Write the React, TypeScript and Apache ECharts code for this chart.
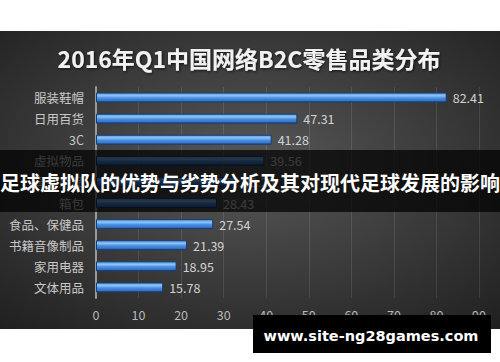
import React, { useEffect, useRef } from "react";
import * as echarts from "echarts";

const categories = [
  "服装鞋帽",
  "日用百货",
  "3C",
  "虚拟物品",
  "母婴用品",
  "箱包",
  "食品、保健品",
  "书籍音像制品",
  "家用电器",
  "文体用品",
];
const values = [82.41, 47.31, 41.28, 39.56, 33.2, 28.43, 27.54, 21.39, 18.95, 15.78];
const xTicks = [0, 10, 20, 30, 40, 50, 60, 70, 80, 90];
const titleText = "2016年Q1中国网络B2C零售品类分布";
const bannerText = "足球虚拟队的优势与劣势分析及其对现代足球发展的影响";
const watermarkText = "www.site-ng28games.com";

export default function App() {
  const ref = useRef<HTMLDivElement>(null);
  useEffect(() => {
    document.body.style.margin = "0";
    const chart = echarts.init(ref.current!, null, { renderer: "svg" });
    const cjk = "'Noto Sans CJK SC', 'Noto Sans', sans-serif";
    chart.setOption({
      animation: false,
      backgroundColor: "#ffffff",
      grid: { left: 96, right: 21, top: 87, bottom: 64 },
      xAxis: {
        type: "value",
        min: xTicks[0],
        max: xTicks[xTicks.length - 1],
        interval: 10,
        axisLine: { show: false },
        axisTick: { show: false },
        splitLine: { show: true, lineStyle: { color: "rgba(255,255,255,0.1)", width: 1 } },
        axisLabel: { color: "#b8b8b8", fontSize: 12.5, fontFamily: cjk, margin: 10 },
      },
      yAxis: {
        type: "category",
        data: categories,
        inverse: true,
        axisLine: { show: true, lineStyle: { color: "#9a9a9a", width: 2 } },
        axisTick: { show: false },
        axisLabel: { color: "#c8c8c8", fontSize: 12.5, fontFamily: cjk, margin: 12 },
      },
      series: [
        {
          type: "bar",
          data: values,
          barWidth: 10,
          itemStyle: {
            borderColor: "#1a3c70",
            borderWidth: 1,
            color: {
              type: "linear",
              x: 0,
              y: 0,
              x2: 0,
              y2: 1,
              colorStops: [
                { offset: 0, color: "#5a9ae6" },
                { offset: 0.3, color: "#8cc4f4" },
                { offset: 0.55, color: "#4a8fe0" },
                { offset: 0.8, color: "#3a7ad0" },
                { offset: 1, color: "#1e4f9a" },
              ],
            },
          },
          label: {
            show: true,
            position: "right",
            distance: 6,
            color: "#d2d2d2",
            fontSize: 12.5,
            fontFamily: cjk,
            formatter: (p: any) => p.value.toFixed(2),
          },
        },
      ],
      graphic: [
        {
          type: "rect",
          z: -10,
          silent: true,
          shape: { x: 0, y: 31, width: 500, height: 298 },
          style: {
            fill: {
              type: "radial",
              x: 0.5,
              y: 0.45,
              r: 0.75,
              colorStops: [
                { offset: 0, color: "#585858" },
                { offset: 1, color: "#1f1f1f" },
              ],
            },
          },
        },
        {
          type: "text",
          z: 50,
          x: 249,
          y: 58,
          style: {
            text: titleText,
            fill: "#f2f2f2",
            font: `bold 23px ${cjk}`,
            align: "center",
            verticalAlign: "middle",
            textShadowColor: "rgba(0,0,0,0.7)",
            textShadowBlur: 3,
            textShadowOffsetX: 1,
            textShadowOffsetY: 1,
          },
        },
        {
          type: "rect",
          z: 100,
          silent: true,
          shape: { x: 0, y: 150, width: 500, height: 62 },
          style: { fill: "rgba(0,0,0,0.72)" },
        },
        {
          type: "text",
          z: 101,
          x: 250,
          y: 182,
          style: {
            text: bannerText,
            fill: "#ffffff",
            font: `bold 20px ${cjk}`,
            align: "center",
            verticalAlign: "middle",
          },
        },
        {
          type: "rect",
          z: 100,
          silent: true,
          shape: { x: 253, y: 315, width: 238, height: 38 },
          style: { fill: "#000000" },
        },
        {
          type: "text",
          z: 101,
          x: 371,
          y: 336,
          style: {
            text: watermarkText,
            fill: "#ffffff",
            font: "bold 14.5px 'DejaVu Sans', sans-serif",
            align: "center",
            verticalAlign: "middle",
          },
        },
      ],
    });
    return () => chart.dispose();
  }, []);
  return <div ref={ref} style={{ width: 500, height: 362 }} />;
}
